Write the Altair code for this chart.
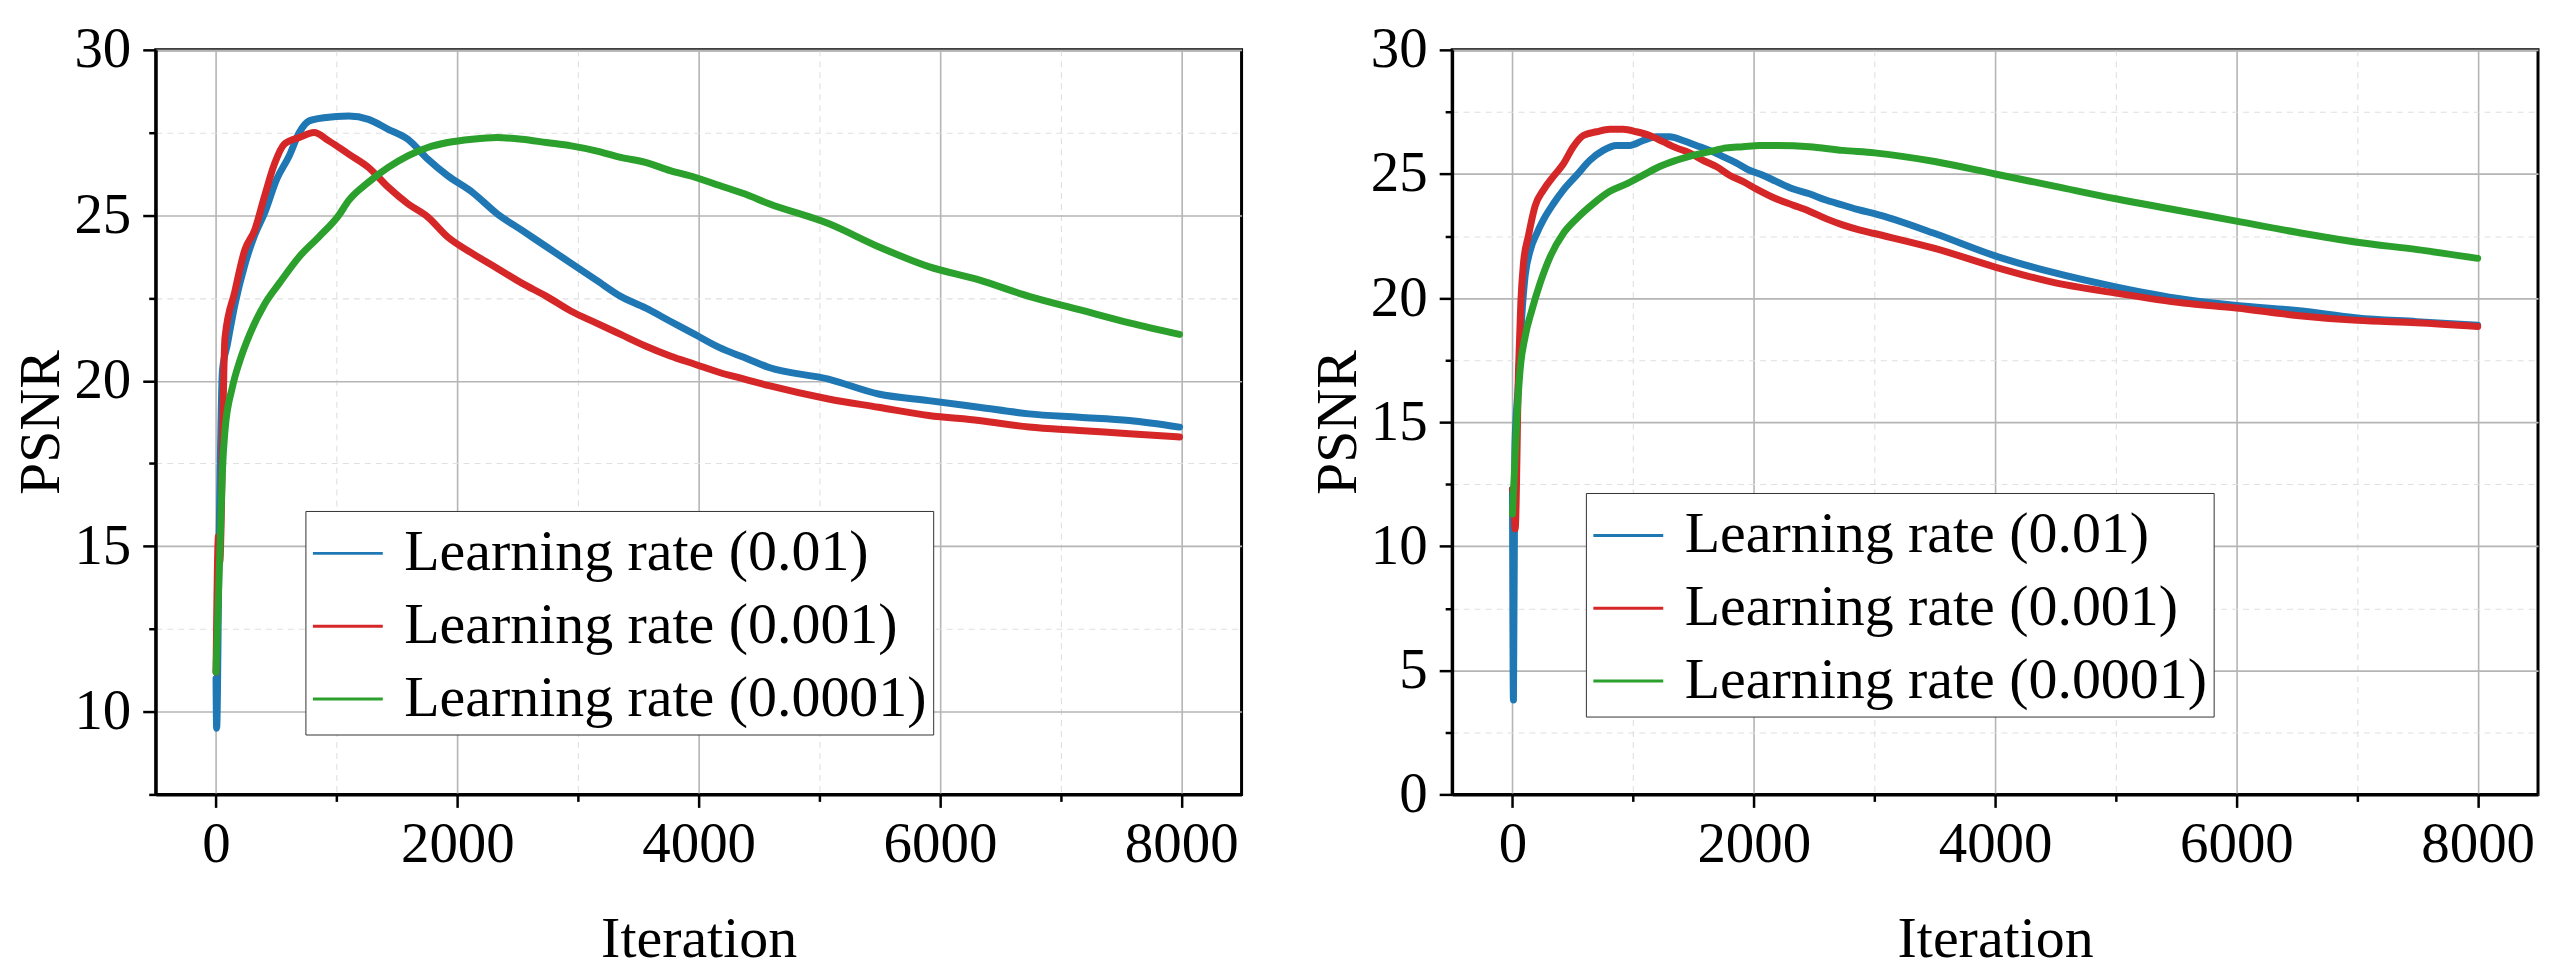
import altair as alt
import pandas as pd

SERIES = ["Learning rate (0.01)", "Learning rate (0.001)", "Learning rate (0.0001)"]
COLORS = ["#1f77b4", "#d62728", "#2ca02c"]

# ---------------- left panel ----------------
L_BLUE_IT = [0, 5, 25, 53, 94, 156, 238, 320, 400, 504, 607, 690, 770, 894, 1100, 1263, 1427, 1590,
             1755, 1919, 2124, 2329, 2534, 2739, 2944, 3149, 3354, 3559, 3764, 3969, 4174, 4379, 4584,
             5076, 5491, 5907, 6323, 6738, 7154, 7570, 7986]
L_BLUE_V = [11.0, 9.5, 15.0, 20.3, 21.1, 22.3, 23.5, 24.4, 25.05, 26.1, 26.8, 27.5, 27.85, 27.95, 28.0,
            27.9, 27.6, 27.3, 26.7, 26.2, 25.7, 25.05, 24.55, 24.05, 23.55, 23.05, 22.55, 22.2, 21.8,
            21.4, 21.0, 20.7, 20.4, 20.05, 19.6, 19.4, 19.2, 19.0, 18.9, 18.8, 18.6]

L_RED_IT = [0, 20, 30, 74, 156, 238, 320, 400, 484, 566, 690, 812, 935, 1100, 1263, 1427, 1590, 1755,
            1919, 2124, 2329, 2534, 2739, 2944, 3149, 3354, 3559, 3764, 3969, 4174, 4379, 4584, 5076,
            5491, 5907, 6323, 6738, 7154, 7570, 7986]
L_RED_V = [11.2, 15.3, 14.5, 21.3, 22.7, 23.95, 24.55, 25.55, 26.55, 27.15, 27.35, 27.5, 27.25, 26.85,
           26.45, 25.85, 25.35, 24.95, 24.35, 23.85, 23.4, 22.95, 22.55, 22.1, 21.75, 21.4, 21.05,
           20.75, 20.5, 20.25, 20.05, 19.85, 19.45, 19.2, 18.95, 18.8, 18.6, 18.5, 18.4, 18.3]

L_GREEN_IT = [0, 33, 53, 74, 135, 197, 279, 400, 525, 690, 853, 1017, 1100, 1263, 1427, 1590, 1755,
              1919, 2124, 2329, 2534, 2739, 2944, 3149, 3354, 3559, 3764, 3969, 4174, 4379, 4584,
              5076, 5491, 5907, 6323, 6738, 7154, 7570, 7986]
L_GREEN_V = [11.2, 15.0, 17.3, 18.5, 19.8, 20.6, 21.4, 22.3, 22.95, 23.75, 24.35, 25.0, 25.45, 26.0,
             26.45, 26.8, 27.05, 27.2, 27.3, 27.35, 27.3, 27.2, 27.1, 26.95, 26.75, 26.6, 26.35, 26.15,
             25.9, 25.65, 25.35, 24.75, 24.05, 23.45, 23.05, 22.55, 22.15, 21.75, 21.4]

# ---------------- right panel ----------------
R_BLUE_IT = [0, 8, 20, 50, 77, 105, 146, 201, 256, 339, 421, 532, 642, 752, 862, 972, 1083, 1193,
             1303, 1413, 1523, 1634, 1744, 1854, 1964, 2075, 2185, 2322, 2460, 2598, 2736, 2873, 3000,
             3500, 4000, 4464, 5000, 5560, 6000, 6500, 7002, 7493, 8000]
R_BLUE_V = [12.3, 3.8, 14.0, 16.6, 19.25, 20.9, 21.9, 22.6, 23.15, 23.8, 24.35, 24.95, 25.55, 25.95,
            26.15, 26.15, 26.35, 26.5, 26.5, 26.35, 26.15, 25.95, 25.7, 25.45, 25.15, 24.95, 24.7,
            24.4, 24.2, 23.95, 23.75, 23.55, 23.4, 22.6, 21.7, 21.05, 20.45, 19.95, 19.7, 19.5, 19.2,
            19.05, 18.9]

R_RED_IT = [0, 10, 22, 50, 69, 91, 132, 187, 256, 339, 421, 504, 587, 697, 807, 917, 1028, 1138, 1248,
            1358, 1468, 1579, 1689, 1799, 1909, 2019, 2185, 2322, 2460, 2598, 2736, 2873, 3000, 3500,
            4000, 4464, 5000, 5560, 6000, 6500, 7002, 7493, 8000]
R_RED_V = [12.3, 12.0, 10.7, 17.1, 19.8, 21.4, 22.5, 23.7, 24.35, 24.9, 25.4, 26.1, 26.55, 26.7, 26.8,
           26.8, 26.7, 26.55, 26.3, 26.05, 25.85, 25.55, 25.3, 24.95, 24.7, 24.4, 24.0, 23.75, 23.5,
           23.2, 22.95, 22.75, 22.6, 22.0, 21.25, 20.65, 20.2, 19.8, 19.6, 19.3, 19.1, 19.0, 18.85]

R_GREEN_IT = [0, 36, 63, 105, 160, 229, 311, 421, 532, 669, 807, 945, 1083, 1220, 1358, 1496, 1634,
              1771, 1909, 2047, 2185, 2460, 2736, 3000, 3500, 4000, 4500, 5000, 5500, 6000, 6500,
              7000, 7500, 8000]
R_GREEN_V = [11.3, 15.1, 17.1, 18.45, 19.5, 20.6, 21.65, 22.6, 23.2, 23.8, 24.3, 24.6, 24.95, 25.3,
             25.55, 25.75, 25.9, 26.05, 26.1, 26.15, 26.15, 26.1, 25.95, 25.85, 25.5, 25.0, 24.5,
             24.0, 23.55, 23.1, 22.65, 22.25, 21.95, 21.6]

X_TICKS = [0, 1000, 2000, 3000, 4000, 5000, 6000, 7000, 8000]
L_Y_TICKS = [7.5, 10, 12.5, 15, 17.5, 20, 22.5, 25, 27.5, 30]
R_Y_TICKS = [0, 2.5, 5, 7.5, 10, 12.5, 15, 17.5, 20, 22.5, 25, 27.5, 30]


def frame(series_data):
    rows = []
    for k, (its, vals) in enumerate(series_data):
        for i, (it, v) in enumerate(zip(its, vals)):
            rows.append({"iter": it, "psnr": v, "series": SERIES[k], "k": k, "i": i})
    return pd.DataFrame(rows)


def cond(test, major, minor):
    return {"condition": {"test": test, "value": major}, "value": minor}


def panel(df, ydom, yticks, lx, ly):
    xt = "datum.value % 2000 === 0"
    yt = "datum.value % 5 === 0"
    return alt.Chart(df).mark_line(
        strokeWidth=7, interpolate="monotone", strokeJoin="round", strokeCap="round"
    ).encode(
        x=alt.X("iter:Q",
                scale=alt.Scale(domain=[-500, 8500], nice=False, zero=False),
                axis=alt.Axis(title="Iteration", values=X_TICKS,
                              labelExpr="datum.value % 2000 === 0 ? format(datum.value, 'd') : ''",
                              tickSize=cond(xt, 13, 7),
                              gridDash=cond(xt, [], [6, 5]),
                              gridColor=cond(xt, "#b5b5b5", "#e0e0e0"),
                              gridWidth=cond(xt, 1.6, 1.1),
                              labelPadding=9, titlePadding=38,
                              labelFlush=False, labelOverlap=False)),
        y=alt.Y("psnr:Q",
                scale=alt.Scale(domain=ydom, nice=False, zero=False),
                axis=alt.Axis(title="PSNR", values=yticks,
                              labelExpr="datum.value % 5 === 0 ? format(datum.value, 'd') : ''",
                              tickSize=cond(yt, 13, 7),
                              gridDash=cond(yt, [], [6, 5]),
                              gridColor=cond(yt, "#b5b5b5", "#e0e0e0"),
                              gridWidth=cond(yt, 1.6, 1.1),
                              labelPadding=12, titlePadding=3,
                              labelFlush=False, labelOverlap=False)),
        color=alt.Color("series:N",
                        scale=alt.Scale(domain=SERIES, range=COLORS),
                        legend=alt.Legend(title=None, orient="none", legendX=lx, legendY=ly,
                                          symbolType="stroke", symbolSize=4900,
                                          symbolStrokeWidth=3, labelFontSize=58,
                                          labelFont="Liberation Serif", labelColor="black",
                                          labelLimit=1000, labelOffset=20,
                                          strokeColor="#333333", fillColor="white",
                                          padding=6, rowPadding=7)),
        detail="k:N",
        order="i:Q",
    ).properties(width=1088, height=746)


left_df = frame([(L_BLUE_IT, L_BLUE_V), (L_RED_IT, L_RED_V), (L_GREEN_IT, L_GREEN_V)])
right_df = frame([(R_BLUE_IT, R_BLUE_V), (R_RED_IT, R_RED_V), (R_GREEN_IT, R_GREEN_V)])

left = panel(left_df, [7.5, 30], L_Y_TICKS, 150, 462)
right = panel(right_df, [0, 30], R_Y_TICKS, 134, 444)

chart = alt.hconcat(left, right, spacing=64).resolve_scale(color="independent").properties(
    padding={"left": 3, "top": 10, "right": 2, "bottom": 0}
).configure(
    font="Liberation Serif"
).configure_view(
    stroke="black", strokeWidth=3
).configure_axis(
    domainColor="black", domainWidth=3, tickColor="black", tickWidth=2.5,
    labelFont="Liberation Serif", titleFont="Liberation Serif",
    labelFontSize=57, titleFontSize=58, titleFontWeight="normal",
    labelColor="black", titleColor="black", grid=True
)

chart.save("out.html", embed_options={"renderer": "svg", "actions": False})
